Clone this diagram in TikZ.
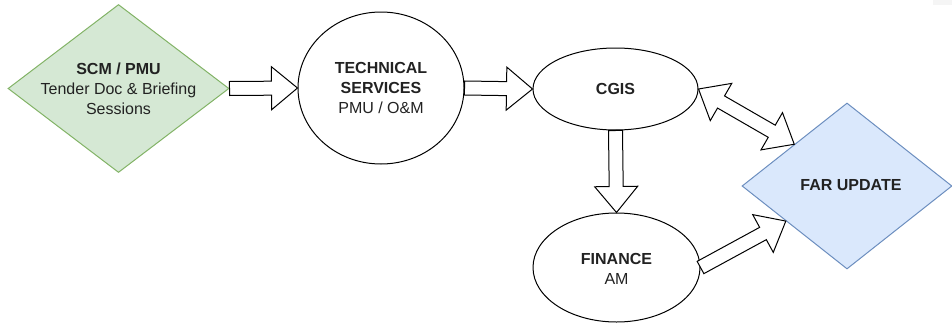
\documentclass[tikz,border=0pt]{standalone}
\usepackage{fontspec}
\setmainfont{Liberation Sans}
\usetikzlibrary{shapes.geometric,calc}
\definecolor{gfill}{HTML}{D5E8D4}
\definecolor{gdraw}{HTML}{82B366}
\definecolor{bfill}{HTML}{DAE8FC}
\definecolor{bdraw}{HTML}{6C8EBF}
\definecolor{txt}{HTML}{222222}
\tikzset{
  every node/.style={font=\fontsize{16}{20}\selectfont, text=txt},
  dia/.style={diamond, inner sep=0pt, line width=1pt},
  ell/.style={ellipse, draw=black, fill=white, line width=1pt, inner sep=0pt},
  lbl/.style={align=center, inner sep=0pt},
  blockarr/.style={draw=black, fill=white, line width=1pt, line join=miter},
}
\newcommand\blockarrow[2]{%
  \path ($(#2)!26pt!(#1)$) coordinate (ba-c);
  \draw[blockarr] ($(#1)!7pt!90:(#2)$) -- ($(ba-c)!7pt!90:(#2)$) -- ($(ba-c)!21.5pt!90:(#2)$) -- (#2)
     -- ($(ba-c)!21.5pt!-90:(#2)$) -- ($(ba-c)!7pt!-90:(#2)$) -- ($(#1)!7pt!-90:(#2)$) -- cycle;}
\newcommand\dblblockarrow[2]{%
  \path ($(#1)!26pt!(#2)$) coordinate (da-a);
  \path ($(#2)!26pt!(#1)$) coordinate (da-b);
  \draw[blockarr] (#1) -- ($(da-a)!21.5pt!90:(#2)$) -- ($(da-a)!7pt!90:(#2)$) -- ($(da-b)!7pt!-90:(#1)$)
     -- ($(da-b)!21.5pt!-90:(#1)$) -- (#2) -- ($(da-b)!21.5pt!90:(#1)$) -- ($(da-b)!7pt!90:(#1)$)
     -- ($(da-a)!7pt!-90:(#2)$) -- ($(da-a)!21.5pt!-90:(#2)$) -- cycle;}
\begin{document}
\begin{tikzpicture}[x=1pt,y=-1pt]
\useasboundingbox (0,0) rectangle (952,324);
\fill[gray!8] (933,0) rectangle (952,5);
% nodes
\node[dia, draw=gdraw, fill=gfill, minimum width=221pt, minimum height=168pt] (scm) at (118.5,88.5) {};
\node[lbl] (scmt) at (scm.center) {\textbf{SCM / PMU}\\Tender Doc \& Briefing\\Sessions};
\node[ell, minimum width=166pt, minimum height=152pt] (tech) at (381,88) {};
\node[lbl] (techt) at (tech.center) {\textbf{TECHNICAL}\\\textbf{SERVICES}\\PMU / O\&M};
\node[ell, minimum width=165pt, minimum height=82pt] (cgis) at (615.5,89) {};
\node[lbl] (cgist) at (cgis.center) {\textbf{CGIS}};
\node[ell, minimum width=167pt, minimum height=109pt] (fin) at (616.5,267.5) {};
\node[lbl] (fint) at ($(fin.center)+(0,1)$) {\textbf{FINANCE}\\AM};
\node[dia, draw=bdraw, fill=bfill, minimum width=210pt, minimum height=166pt] (far) at (847,186) {};
\node[lbl] (fart) at (851,185) {\textbf{FAR UPDATE}};
% connector points
\coordinate (farA) at ($(far.west)!0.5!(far.north)$);
\coordinate (farB) at ($(far.west)!0.42!(far.south)$);
% connectors
\blockarrow{scm.east}{tech.west}
\blockarrow{tech.east}{cgis.west}
\blockarrow{cgis.south}{fin.north}
\blockarrow{fin.east}{farB}
\dblblockarrow{cgis.east}{farA}
\end{tikzpicture}
\end{document}
